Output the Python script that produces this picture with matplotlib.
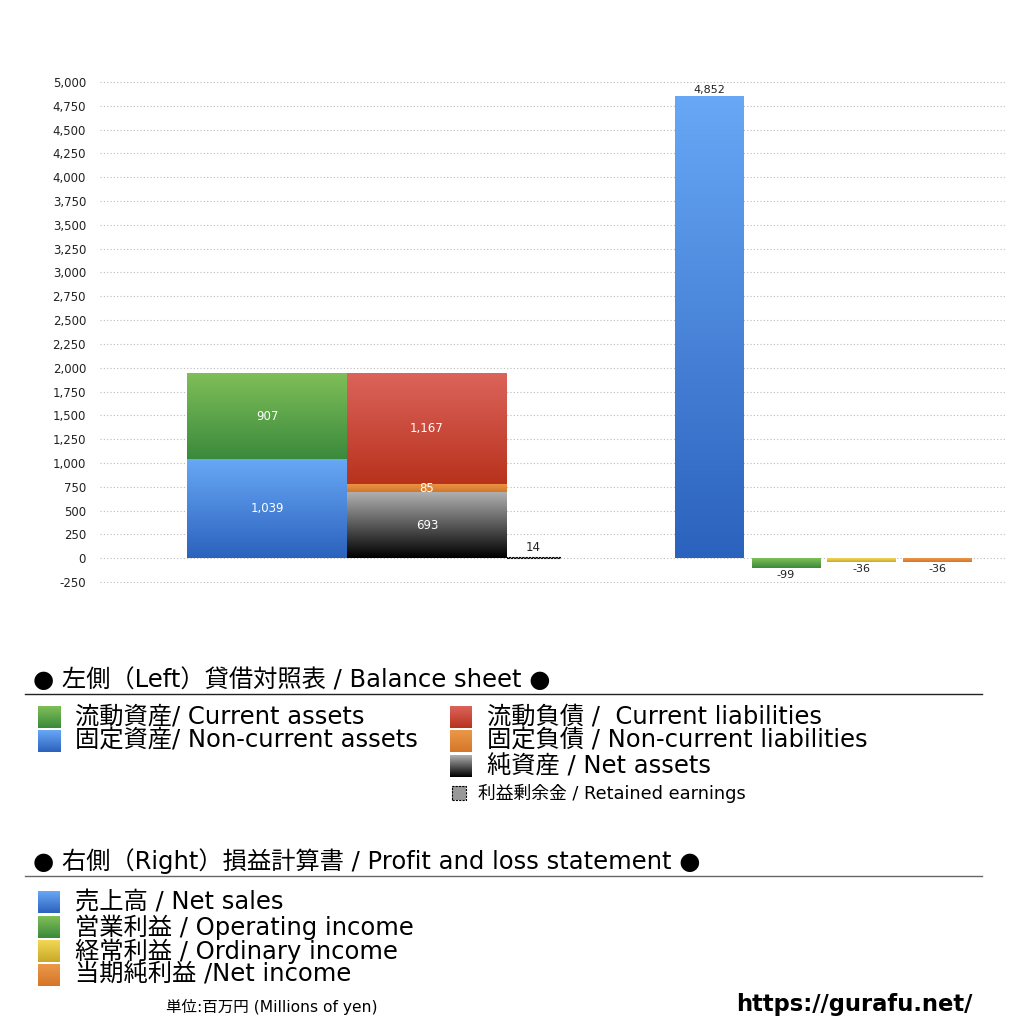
import matplotlib
matplotlib.use("Agg")
import matplotlib.pyplot as plt
from matplotlib.colors import LinearSegmentedColormap
from matplotlib.patches import Rectangle
import numpy as np

# DejaVu first for the wide latin letters, Noto CJK for the kanji
plt.rcParams['font.family'] = ['DejaVu Sans', 'Noto Sans CJK JP']

# Balance sheet (left side), millions of yen
bs_assets_names = ["流動資産/ Current assets", "固定資産/ Non-current assets"]
current_assets = 907
noncurrent_assets = 1039
bs_liab_names = ["流動負債 /  Current liabilities", "固定負債 / Non-current liabilities", "純資産 / Net assets"]
current_liabilities = 1167
noncurrent_liabilities = 85
net_assets = 693
retained_earnings = 14

# Profit and loss (right side)
pl_names = ["売上高 / Net sales", "営業利益 / Operating income", "経常利益 / Ordinary income", "当期純利益 /Net income"]
pl_values = [4852, -99, -36, -36]

yticks = list(range(-250, 5001, 250))

# colours (top, bottom) of each gradient
GREEN = ("#80bf58", "#3a8a3c")
BLUE = ("#68a8f6", "#2b62bd")
RED = ("#dc645c", "#b8321c")
ORANGE = ("#ec9848", "#d4762a")
BLACK = ("#b0b0b0", "#000000")
YELLOW = ("#f2d855", "#c8a828")

W, H = 1024, 1024
fig = plt.figure(figsize=(W / 100, H / 100), dpi=100)


def fx(x):
    return x / W


def fy(y):
    return 1 - y / H


def gradient_bar(ax, x, bottom, height, width, colors):
    bar = ax.bar(x, height, width, bottom=bottom, color="none", linewidth=0, zorder=2)[0]
    cmap = LinearSegmentedColormap.from_list("g", [colors[1], colors[0]])
    grad = np.linspace(0, 1, 256).reshape(-1, 1)
    y0, y1 = sorted([bottom, bottom + height])
    im = ax.imshow(grad, extent=[x - width / 2, x + width / 2, y0, y1], origin="lower",
                   cmap=cmap, aspect="auto", zorder=2, interpolation="bilinear")
    im.set_clip_path(bar)


# ---- chart axes ----
ylo, yhi = -260, 5010
ax = fig.add_axes([fx(100), fy(582.95), fx(1005) - fx(100), fy(81.05) - fy(582.95)])
for s in ax.spines.values():
    s.set_visible(False)
ax.set_yticks(yticks)
ax.set_yticklabels([f"{v:,}" for v in yticks], fontsize=8.5, color="#222222")
ax.tick_params(axis="y", length=0, pad=10)
ax.set_xticks([])
ax.grid(axis="y", color="#bbbbbb", linestyle=(0, (1, 2)), linewidth=0.8)
ax.set_axisbelow(True)

wbs = 160
x_assets, x_liab, x_re = 167, 327, 433
gradient_bar(ax, x_assets, 0, noncurrent_assets, wbs, BLUE)
gradient_bar(ax, x_assets, noncurrent_assets, current_assets, wbs, GREEN)
gradient_bar(ax, x_liab, 0, net_assets, wbs, BLACK)
gradient_bar(ax, x_liab, net_assets, noncurrent_liabilities, wbs, ORANGE)
gradient_bar(ax, x_liab, net_assets + noncurrent_liabilities, current_liabilities, wbs, RED)
ax.bar(x_re, retained_earnings, 53, color="#999999", edgecolor="black",
       linestyle=(0, (2, 1)), linewidth=0.8, zorder=3)

lab = dict(ha="center", va="center", fontsize=8.5, color="white", zorder=5)
ax.text(x_assets, noncurrent_assets / 2, f"{noncurrent_assets:,}", **lab)
ax.text(x_assets, noncurrent_assets + current_assets / 2, f"{current_assets:,}", **lab)
ax.text(x_liab, net_assets / 2, f"{net_assets:,}", **lab)
ax.text(x_liab, net_assets + noncurrent_liabilities / 2, f"{noncurrent_liabilities:,}", **lab)
ax.text(x_liab, net_assets + noncurrent_liabilities + current_liabilities / 2,
        f"{current_liabilities:,}", **lab)
ax.text(x_re, retained_earnings + 25, f"{retained_earnings:,}", ha="center", va="bottom",
        fontsize=8.5, color="#222222")

x_pl = [609.5, 686, 761, 837]
w_pl = 69
pl_colors = [BLUE, GREEN, YELLOW, ORANGE]
for xp, v, c in zip(x_pl, pl_values, pl_colors):
    gradient_bar(ax, xp, 0, v, w_pl, c)
    if v >= 0:
        ax.text(xp, v + 15, f"{v:,}", ha="center", va="bottom", fontsize=8, color="#222222")
    else:
        ax.text(xp, v - 20, f"{v:,}", ha="center", va="top", fontsize=8, color="#222222")

ax.set_xlim(0, 905)
ax.set_ylim(ylo, yhi)


# ---- legends ----
def legend_square(x0, y0, x1, y1, colors, dashed=False):
    lax = fig.add_axes([fx(x0), fy(y1), fx(x1) - fx(x0), fy(y0) - fy(y1)])
    lax.set_axis_off()
    cmap = LinearSegmentedColormap.from_list("g", [colors[1], colors[0]])
    lax.imshow(np.linspace(0, 1, 64).reshape(-1, 1), origin="lower", cmap=cmap,
               aspect="auto", extent=[0, 1, 0, 1])
    if dashed:
        lax.add_patch(Rectangle((0, 0), 1, 1, fill=False, edgecolor="black",
                                linestyle=(0, (2, 1)), linewidth=0.8, clip_on=False))
    lax.set_xlim(0, 1)
    lax.set_ylim(0, 1)


big = 17.5
fig.text(fx(33), fy(680), "● 左側（Left）貸借対照表 / Balance sheet ●", fontsize=big,
         va="center", ha="left")
fig.add_artist(plt.Line2D([fx(25), fx(982)], [fy(694), fy(694)], color="#222222", linewidth=1))

rows1 = [717, 741]
for name, c, y in zip(bs_assets_names, [GREEN, BLUE], rows1):
    legend_square(38, y - 11, 61, y + 11, c)
    fig.text(fx(75), fy(y), name, fontsize=big, va="center", ha="left")
rows2 = [717, 741, 766]
for name, c, y in zip(bs_liab_names, [RED, ORANGE, BLACK], rows2):
    legend_square(450, y - 11, 472, y + 11, c)
    fig.text(fx(487), fy(y), name, fontsize=big, va="center", ha="left")
legend_square(452, 786, 466, 800, ("#999999", "#999999"), dashed=True)
fig.text(fx(478), fy(793), "利益剰余金 / Retained earnings", fontsize=12.8, va="center", ha="left")

fig.text(fx(33), fy(861), "● 右側（Right）損益計算書 / Profit and loss statement ●", fontsize=big,
         va="center", ha="left")
fig.add_artist(plt.Line2D([fx(25), fx(982)], [fy(876), fy(876)], color="#666666", linewidth=1))

rows3 = [902, 927, 951, 975]
for name, c, y in zip(pl_names, pl_colors, rows3):
    legend_square(38, y - 11, 60, y + 11, c)
    fig.text(fx(75), fy(y), name, fontsize=big, va="center", ha="left")

fig.text(fx(166), fy(1007), "単位:百万円 (Millions of yen)", fontsize=11.2, va="center", ha="left")
fig.text(fx(972), fy(1004), "https://gurafu.net/", fontsize=16.3, fontweight="bold",
         va="center", ha="right")

fig.savefig("out.png", dpi=100)
